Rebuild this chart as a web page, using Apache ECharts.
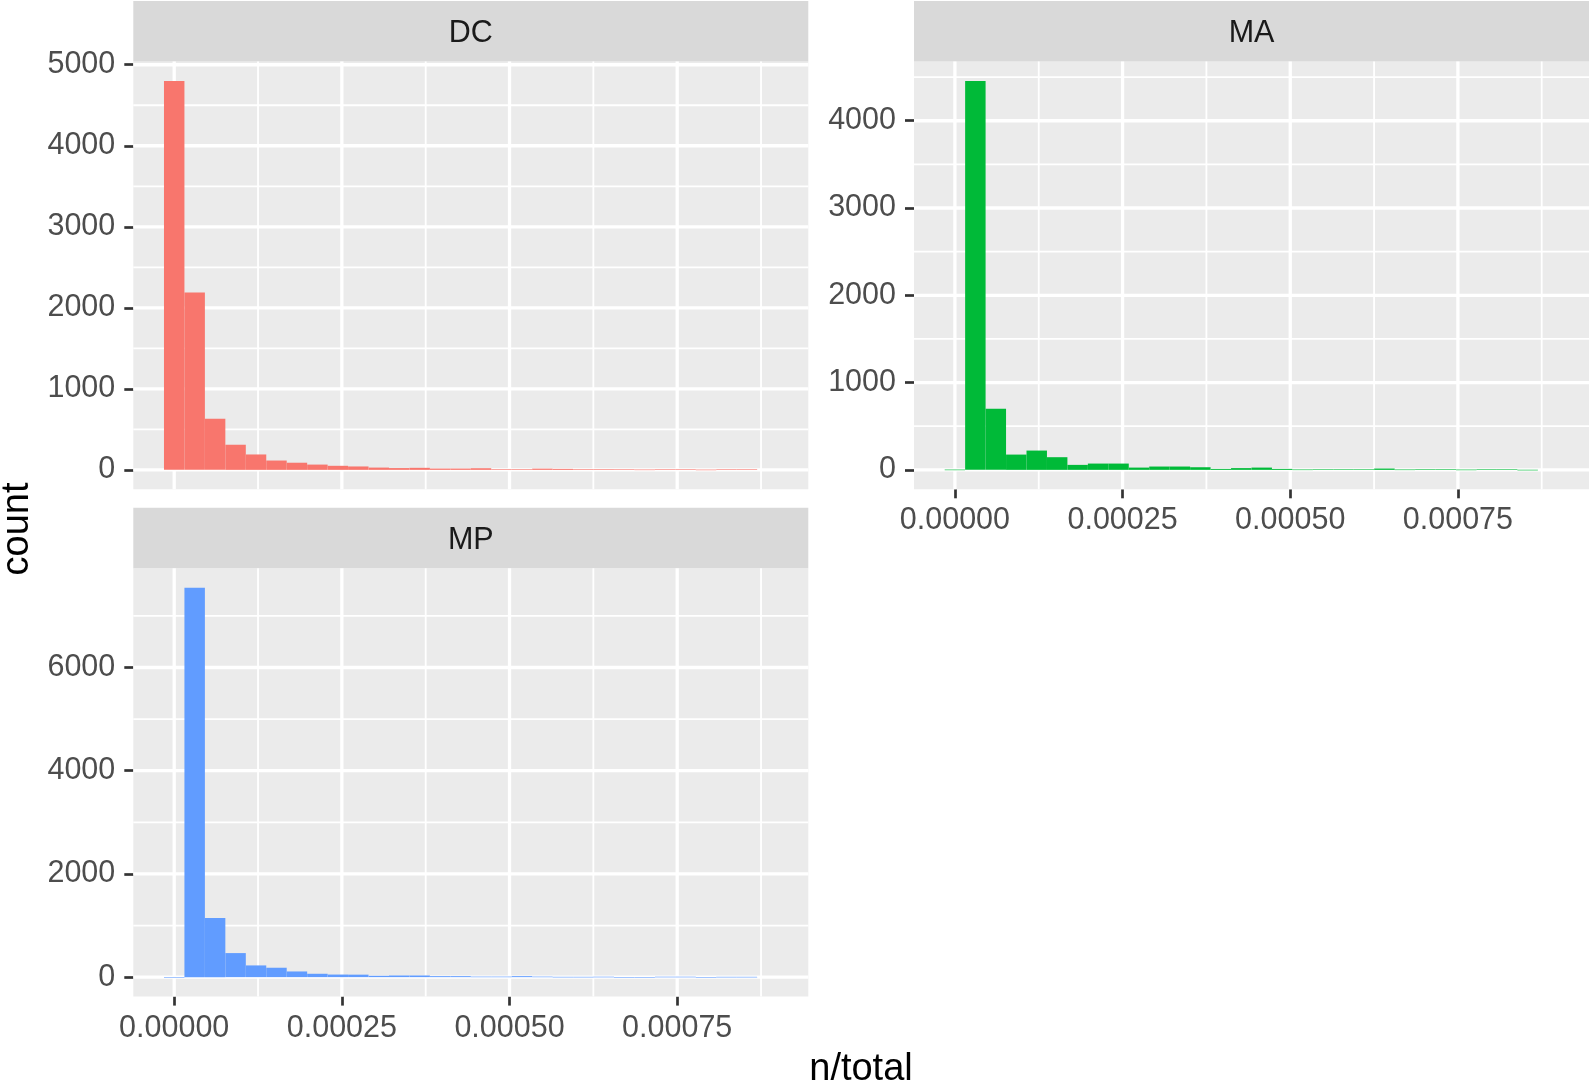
<!DOCTYPE html>
<html>
<head>
<meta charset="utf-8">
<script src="https://cdn.jsdelivr.net/npm/echarts@6/dist/echarts.min.js"></script>
<style>
html,body{margin:0;padding:0;background:#fff;}
#chart{width:1590px;height:1083px;}
</style>
</head>
<body>
<div id="chart"></div>
<script>
// histogram bins: 29 bins of equal width, first bin centred on 0
var binWidth = 0.0000305;
var panelNames = ['DC', 'MA', 'MP'];
var panelColors = ['#F8766D', '#00BA38', '#619CFF'];

// counts per bin
var dcCounts = [4800, 2190, 630, 310, 190, 115, 88, 65, 50, 42, 28, 22, 25, 16, 16, 20, 8, 8, 15, 12, 8, 8, 7, 4, 6, 6, 3, 6, 6];
var maCounts = [3, 4456, 700, 175, 221, 145, 57, 72, 72, 26, 38, 38, 30, 11, 20, 26, 11, 4, 5, 5, 5, 15, 4, 6, 6, 3, 5, 5, 1];
var mpCounts = [3, 7545, 1144, 466, 227, 182, 110, 65, 50, 48, 26, 32, 32, 19, 19, 10, 10, 19, 10, 6, 6, 8, 3, 3, 8, 8, 3, 6, 6];

// axis breaks
var xMajor = [0, 0.00025, 0.0005, 0.00075];
var xMinor = [0.000125, 0.000375, 0.000625, 0.000875];
var dcMajor = [0, 1000, 2000, 3000, 4000, 5000];
var dcMinor = [500, 1500, 2500, 3500, 4500];
var maMajor = [0, 1000, 2000, 3000, 4000];
var maMinor = [500, 1500, 2500, 3500, 4500];
var mpMajor = [0, 2000, 4000, 6000];
var mpMinor = [1000, 3000, 5000, 7000];

var FONT = 'Liberation Sans';
var panelBg = '#EBEBEB';
var stripBg = '#D9D9D9';

var grids = [
    {left: 133.3, top: 61.5, width: 675, height: 427.8},
    {left: 914, top: 61.5, width: 675, height: 427.8},
    {left: 133.3, top: 568.3, width: 675, height: 428.3}
];
var countsList = [dcCounts, maCounts, mpCounts];
var yMajorList = [dcMajor, maMajor, mpMajor];
var yMinorList = [dcMinor, maMinor, mpMinor];
var showXLabels = [false, true, true];

function binData(counts) {
    var out = [];
    for (var k = 0; k < counts.length; k++) {
        out.push([(k - 0.5) * binWidth, (k + 0.5) * binWidth, counts[k]]);
    }
    return out;
}

// [vertical?, value, line width] : minor lines first, majors on top
function gridLineData(yMajor, yMinor) {
    var d = [];
    xMinor.forEach(function (v) { d.push([1, v, 1.8]); });
    yMinor.forEach(function (v) { d.push([0, v, 1.8]); });
    xMajor.forEach(function (v) { d.push([1, v, 3.3]); });
    yMajor.forEach(function (v) { d.push([0, v, 3.3]); });
    return d;
}

function renderGridLine(params, api) {
    var cs = params.coordSys;
    var v = api.value(1);
    var shape;
    if (api.value(0) === 1) {
        var px = api.coord([v, 0])[0];
        shape = {x1: px, y1: cs.y, x2: px, y2: cs.y + cs.height};
    } else {
        var py = api.coord([0, v])[1];
        shape = {x1: cs.x, y1: py, x2: cs.x + cs.width, y2: py};
    }
    return {type: 'line', shape: shape, style: {stroke: '#FFFFFF', lineWidth: api.value(2)}};
}

var xAxes = [], yAxes = [], series = [], graphics = [];

for (var i = 0; i < 3; i++) {
    var g = grids[i];
    var maxC = Math.max.apply(null, countsList[i]);
    xAxes.push({
        gridIndex: i,
        type: 'value',
        min: -2 * binWidth,
        max: 31 * binWidth,
        axisLine: {show: false, onZero: false},
        splitLine: {show: false},
        axisTick: {show: showXLabels[i], customValues: xMajor, length: 9, lineStyle: {color: '#333333', width: 2.7}},
        axisLabel: {
            show: showXLabels[i], customValues: xMajor, margin: 16,
            fontFamily: FONT, fontSize: 30.5, color: '#4D4D4D',
            formatter: function (v) { return v.toFixed(5); }
        }
    });
    yAxes.push({
        gridIndex: i,
        type: 'value',
        min: -0.05 * maxC,
        max: 1.05 * maxC,
        axisLine: {show: false, onZero: false},
        splitLine: {show: false},
        axisTick: {show: true, customValues: yMajorList[i], length: 9, lineStyle: {color: '#333333', width: 2.7}},
        axisLabel: {
            customValues: yMajorList[i], margin: 18, padding: [8, 0, 0, 0],
            fontFamily: FONT, fontSize: 30.5, color: '#4D4D4D',
            formatter: function (v) { return String(v); }
        }
    });

    // white grid lines drawn under the bars
    series.push({
        type: 'custom',
        xAxisIndex: i,
        yAxisIndex: i,
        z: 1,
        silent: true,
        data: gridLineData(yMajorList[i], yMinorList[i]),
        renderItem: renderGridLine
    });

    var col = panelColors[i];
    series.push({
        type: 'custom',
        name: panelNames[i],
        xAxisIndex: i,
        yAxisIndex: i,
        z: 3,
        data: binData(countsList[i]),
        encode: {x: [0, 1], y: 2},
        renderItem: (function (color) {
            return function (params, api) {
                var p0 = api.coord([api.value(0), 0]);
                var p1 = api.coord([api.value(1), api.value(2)]);
                return {
                    type: 'rect',
                    shape: {x: p0[0], y: p1[1], width: p1[0] - p0[0], height: Math.max(p0[1] - p1[1], 0.6)},
                    style: {fill: color}
                };
            };
        })(col)
    });

    // panel background and strip
    graphics.push({
        type: 'rect', z: -10,
        shape: {x: g.left, y: g.top, width: g.width, height: g.height},
        style: {fill: panelBg}
    });
    graphics.push({
        type: 'rect', z: -10,
        shape: {x: g.left, y: g.top - 60.5, width: g.width, height: 60.5},
        style: {fill: stripBg}
    });
    graphics.push({
        type: 'text', z: 10,
        x: g.left + g.width / 2, y: g.top - 28,
        style: {text: panelNames[i], fontFamily: FONT, fontSize: 30.5, fill: '#1A1A1A', align: 'center', verticalAlign: 'middle'}
    });
}

// axis titles
graphics.push({
    type: 'text', z: 10,
    x: 861, y: 1070,
    style: {text: 'n/total', fontFamily: FONT, fontSize: 38, fill: '#000000', align: 'center', verticalAlign: 'middle'}
});
graphics.push({
    type: 'text', z: 10,
    x: 18, y: 529, rotation: Math.PI / 2,
    style: {text: 'count', fontFamily: FONT, fontSize: 38, fill: '#000000', align: 'center', verticalAlign: 'middle'}
});

var chart = echarts.init(document.getElementById('chart'), null, {renderer: 'canvas'});
chart.setOption({
    animation: false,
    backgroundColor: '#FFFFFF',
    grid: grids,
    xAxis: xAxes,
    yAxis: yAxes,
    series: series,
    graphic: graphics
});
</script>
</body>
</html>
